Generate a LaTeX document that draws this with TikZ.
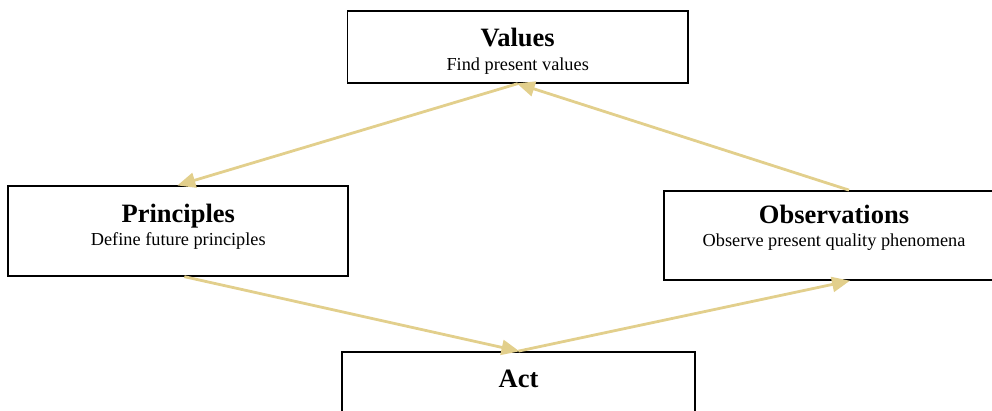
\documentclass[tikz,border=0pt]{standalone}
\usepackage{fontspec}
\setmainfont{Liberation Serif}
\usetikzlibrary{arrows.meta,calc}
\definecolor{linktan}{RGB}{226,207,140}
\tikzset{
  stagebox/.style={draw=black, line width=1.8pt, fill=white, inner sep=0pt},
  titletext/.style={anchor=base, inner sep=0pt, font=\fontsize{26.5}{30}\selectfont\bfseries},
  subtext/.style={anchor=base, inner sep=0pt, font=\fontsize{18.3}{21}\selectfont},
  link/.style={draw=linktan, line width=2.8pt, -{Triangle[length=18pt,width=15pt]}, shorten >=-1pt}
}
\begin{document}
\begin{tikzpicture}[x=1pt,y=-1pt]
\useasboundingbox (0,0) rectangle (992,410);
\begin{scope}
\clip (0,0) rectangle (992,410);
% the four stages of the cycle
\node[stagebox, minimum width=340.5pt, minimum height=71.5pt] (values) at (517.7,47) {};
\node[stagebox, minimum width=340pt, minimum height=89.7pt] (principles) at (178.3,230.9) {};
\node[stagebox, minimum width=370pt, minimum height=89pt] (obs) at (849,235.5) {};
\node[stagebox, minimum width=353pt, minimum height=100pt] (act) at (518.5,402) {};

% headings and descriptions
\node[titletext] (valuesT) at (517.7,46.7) {Values};
\node[subtext] (valuesS) at (517.7,70) {Find present values};
\node[titletext] (principlesT) at (178.3,222) {Principles};
\node[subtext] (principlesS) at (178.3,245) {Define future principles};
\node[titletext] (obsT) at (834,223) {Observations};
\node[subtext] (obsS) at (834,246.5) {Observe present quality phenomena};
\node[titletext] (actT) at (518.5,387) {Act};
\end{scope}

% connectors
\coordinate (principlesOut) at ($(principles.south)+(6,0)$);
\draw[link] (values.south) -- (principles.north);
\draw[link] (principlesOut) -- (act.north);
\draw[link] (act.north) -- (obs.south);
\draw[link] (obs.north) -- (values.south);
\end{tikzpicture}
\end{document}
